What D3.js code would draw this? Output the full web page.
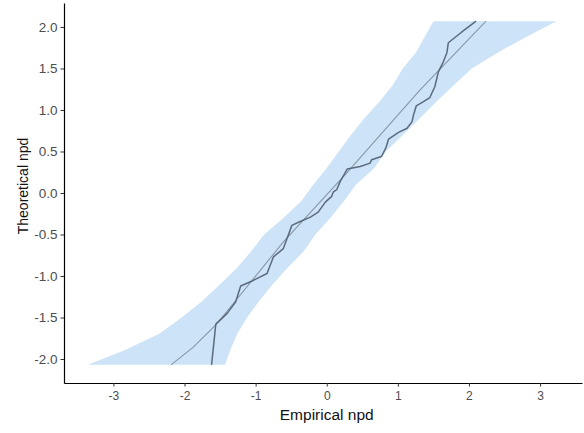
<!DOCTYPE html>
<html>
<head>
<meta charset="utf-8">
<script src="https://cdn.jsdelivr.net/npm/d3@7"></script>
<style>
  body { margin: 0; background: #fff; }
  svg { display: block; font-family: "Liberation Sans", Arial, sans-serif; }
</style>
</head>
<body>
<svg id="chart" width="584" height="433"></svg>
<script>
// Observed npd quantiles (empirical vs theoretical)
const empirical = [-1.62, -1.56, -1.40, -1.28, -1.21, -1.05, -0.84, -0.75, -0.61, -0.49, -0.39, -0.23, -0.12, -0.02, 0.07, 0.09, 0.14, 0.19, 0.29, 0.47, 0.61, 0.63, 0.77, 0.83, 0.87, 1.01, 1.13, 1.20, 1.22, 1.26, 1.36, 1.45, 1.52, 1.57, 1.64, 1.69, 1.71, 1.90, 2.10];
const theoretical = [-2.07, -1.58, -1.45, -1.31, -1.12, -1.06, -0.97, -0.77, -0.67, -0.39, -0.35, -0.29, -0.23, -0.11, -0.04, 0.01, 0.04, 0.14, 0.29, 0.32, 0.36, 0.40, 0.44, 0.54, 0.65, 0.73, 0.78, 0.86, 0.94, 1.05, 1.10, 1.15, 1.28, 1.46, 1.58, 1.69, 1.81, 1.94, 2.07];

// Median of simulated quantiles
const refX = [-2.19, -1.88, -1.56, -0.61, 0.26, 1.31, 2.24];
const refY = [-2.07, -1.86, -1.59, -0.59, 0.22, 1.24, 2.07];

// Prediction band
const bandY = [-2.07, -1.9, -1.7, -1.5, -1.3, -1.1, -0.9, -0.7, -0.5, -0.3, -0.1, 0.1, 0.3, 0.5, 0.7, 0.9, 1.1, 1.3, 1.5, 1.7, 1.9, 2.07];
const bandLo = [-3.36, -2.86, -2.36, -2.04, -1.75, -1.50, -1.26, -1.06, -0.88, -0.61, -0.36, -0.19, 0.00, 0.17, 0.34, 0.53, 0.74, 0.93, 1.07, 1.26, 1.39, 1.50];
const bandHi = [-1.43, -1.36, -1.26, -1.12, -0.95, -0.76, -0.55, -0.32, -0.16, 0.05, 0.24, 0.41, 0.67, 0.83, 1.07, 1.31, 1.54, 1.79, 2.04, 2.42, 2.85, 3.23];

const xTicks = [-3, -2, -1, 0, 1, 2, 3];
const yTicks = [-2, -1.5, -1, -0.5, 0, 0.5, 1, 1.5, 2];

const margin = { top: 3, left: 64, right: 2, bottom: 50 };
const width = 584, height = 433;
const innerW = width - margin.left - margin.right;
const innerH = height - margin.top - margin.bottom;

const svg = d3.select("#chart");
svg.append("rect").attr("width", width).attr("height", height).attr("fill", "#fff");

const g = svg.append("g").attr("transform", `translate(${margin.left},${margin.top})`);

const x = d3.scaleLinear().domain([-3.695, 3.59]).range([0, innerW]);
const y = d3.scaleLinear().domain([-2.289, 2.289]).range([innerH, 0]);

// Band
const band = bandY.map((v, i) => ({ y: v, lo: bandLo[i], hi: bandHi[i] }));
g.append("path")
    .datum(band)
    .attr("fill", "#cde3f7")
    .attr("d", d3.area()
        .y(d => y(d.y))
        .x0(d => x(d.lo))
        .x1(d => x(d.hi))
        .curve(d3.curveLinear));

// Reference line
const ref = refX.map((v, i) => ({ x: v, y: refY[i] }));
g.append("path")
    .datum(ref)
    .attr("fill", "none")
    .attr("stroke", "#8797a7")
    .attr("stroke-width", 1.1)
    .attr("d", d3.line().x(d => x(d.x)).y(d => y(d.y)));

// Observed
const obs = empirical.map((v, i) => ({ x: v, y: theoretical[i] }));
g.append("path")
    .datum(obs)
    .attr("fill", "none")
    .attr("stroke", "#5b6b7c")
    .attr("stroke-width", 1.5)
    .attr("stroke-linejoin", "round")
    .attr("d", d3.line().x(d => x(d.x)).y(d => y(d.y)));

// X axis
const xAxis = g.append("g")
    .attr("transform", `translate(0,${innerH})`)
    .call(d3.axisBottom(x).tickValues(xTicks).tickFormat(d => String(d)).tickSize(3.5).tickSizeOuter(0).tickPadding(5));
xAxis.select(".domain").attr("stroke", "#000").attr("stroke-width", 1.2);
xAxis.selectAll(".tick line").attr("stroke", "#333");
xAxis.selectAll("text").attr("fill", "#4d4d4d").style("font-size", "12px");

// Y axis
const yAxis = g.append("g")
    .call(d3.axisLeft(y).tickValues(yTicks).tickFormat(d => d.toFixed(1)).tickSize(3.5).tickSizeOuter(0).tickPadding(3));
yAxis.select(".domain").attr("stroke", "#000").attr("stroke-width", 1.2);
yAxis.selectAll(".tick line").attr("stroke", "#333");
yAxis.selectAll("text").attr("fill", "#4d4d4d").style("font-size", "13.5px");

// Titles
svg.append("text")
    .attr("x", margin.left + x(0))
    .attr("y", 420)
    .attr("text-anchor", "middle")
    .style("font-size", "15.5px")
    .attr("fill", "#111")
    .text("Empirical npd");

svg.append("text")
    .attr("transform", "translate(28,186) rotate(-90)")
    .attr("text-anchor", "middle")
    .style("font-size", "14px")
    .attr("fill", "#111")
    .text("Theoretical npd");
</script>
</body>
</html>
